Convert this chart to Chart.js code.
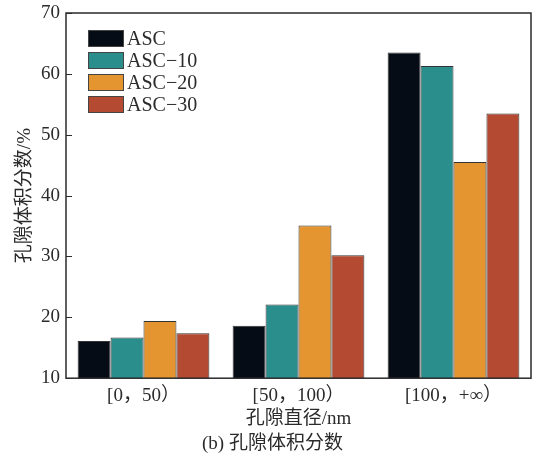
<!DOCTYPE html>
<html>
<head>
<meta charset="utf-8">
<script src="https://cdn.jsdelivr.net/npm/chart.js@4/dist/chart.umd.min.js"></script>
<style>
  html, body { margin: 0; padding: 0; background: #fff; }
  #wrap { width: 533px; height: 455px; }
</style>
</head>
<body>
<div id="wrap"><canvas id="chart" width="533" height="455"></canvas></div>
<script>
'use strict';

// pore size ranges
var categories = ['[0，50）', '[50，100）', '[100，+∞）'];

// pore volume fraction (%)
var asc   = [16.1, 18.6, 63.5];
var asc10 = [16.7, 22.1, 61.3];
var asc20 = [19.4, 35.1, 45.5];
var asc30 = [17.4, 30.2, 53.5];

var seriesNames = ['ASC', 'ASC-10', 'ASC-20', 'ASC-30'];
var yTicks = [10, 20, 30, 40, 50, 60, 70];

var colors = ['#060c16', '#2a8f8c', '#e4952f', '#b34a31'];
var serif = "'Liberation Serif', 'Noto Sans CJK SC', serif";
var ink = '#2b2b2b';

// frame round the plot, inward ticks, legend inside top-left
var framePlugin = {
    id: 'frame',
    afterDraw: function(chart) {
        var ctx = chart.ctx;
        var a = chart.chartArea;
        var y = chart.scales.y;
        ctx.save();
        ctx.strokeStyle = ink;
        ctx.lineWidth = 1.5;
        ctx.strokeRect(a.left, a.top, a.right - a.left, a.bottom - a.top);
        ctx.beginPath();
        yTicks.forEach(function(v) {
            var py = Math.round(y.getPixelForValue(v)) + 0.5;
            ctx.moveTo(a.left, py);
            ctx.lineTo(a.left + 6, py);
        });
        ctx.lineWidth = 1;
        ctx.stroke();

        // legend
        var x0 = a.left + 22, y0 = a.top + 17;
        ctx.font = '20px ' + serif;
        ctx.textBaseline = 'middle';
        ctx.textAlign = 'left';
        chart.data.datasets.forEach(function(ds, i) {
            var ry = y0 + i * 22;
            ctx.fillStyle = ds.backgroundColor;
            ctx.fillRect(x0, ry, 36, 17);
            ctx.strokeStyle = '#444';
            ctx.lineWidth = 1;
            ctx.strokeRect(x0 + 0.5, ry + 0.5, 35, 16);
            ctx.fillStyle = ink;
            ctx.fillText(ds.label.replace('-', '\u2212'), x0 + 39, ry + 9.5);
        });
        ctx.restore();
    }
};

var datasets = [asc, asc10, asc20, asc30].map(function(vals, i) {
    return {
        label: seriesNames[i],
        data: vals,
        backgroundColor: colors[i],
        borderColor: '#333',
        borderWidth: 1,
        barPercentage: 1.0,
        categoryPercentage: 0.85
    };
});

var chart = new Chart(document.getElementById('chart'), {
    type: 'bar',
    data: { labels: categories, datasets: datasets },
    plugins: [framePlugin],
    options: {
        responsive: false,
        animation: false,
        layout: { padding: { top: 13, right: 2, left: 14, bottom: 0 } },
        plugins: {
            legend: { display: false },
            tooltip: { enabled: false },
            title: {
                display: true,
                position: 'bottom',
                text: '(b) 孔隙体积分数',
                color: ink,
                font: { family: serif, size: 19, weight: 'normal' },
                padding: { top: 0, bottom: 0 }
            }
        },
        scales: {
            x: {
                grid: { display: false, drawTicks: false, tickLength: 0 },
                border: { display: false },
                afterFit: function(scale) {
                    scale.height = 54;
                    scale.paddingLeft = 0;
                    scale.paddingRight = 0;
                },
                ticks: {
                    color: ink,
                    padding: 6,
                    font: { family: serif, size: 19 }
                },
                title: {
                    display: true,
                    text: '孔隙直径/nm',
                    color: ink,
                    font: { family: serif, size: 19 },
                    padding: { top: 0, bottom: 2 }
                }
            },
            y: {
                min: 10,
                max: 70,
                grid: { display: false, drawTicks: false, tickLength: 0 },
                border: { display: false },
                afterBuildTicks: function(scale) {
                    scale.ticks = yTicks.map(function(v) { return { value: v }; });
                },
                afterFit: function(scale) {
                    scale.width = 52;
                    scale.paddingTop = 0;
                    scale.paddingBottom = 0;
                },
                ticks: {
                    color: ink,
                    padding: 6,
                    font: { family: serif, size: 19 }
                },
                title: {
                    display: true,
                    text: '孔隙体积分数/%',
                    color: ink,
                    font: { family: serif, size: 19 },
                    padding: { top: 0, bottom: 0 }
                }
            }
        }
    }
});
</script>
</body>
</html>
